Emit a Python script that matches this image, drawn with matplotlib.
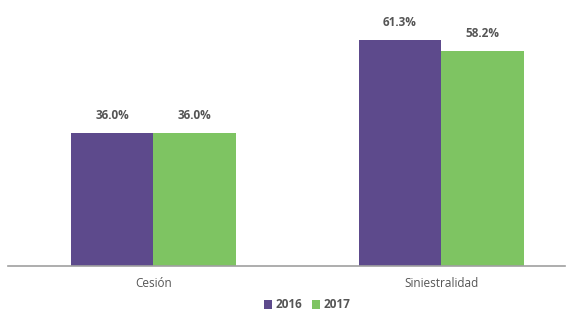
import matplotlib
matplotlib.use("Agg")
import matplotlib.pyplot as plt
import numpy as np

categories = ["Cesión", "Siniestralidad"]
years = ["2016", "2017"]
values_2016 = [36.0, 61.3]
values_2017 = [36.0, 58.2]

purple = "#5d4a8c"
green = "#7ec462"
text_grey = "#555555"

plt.rcParams["font.family"] = ["Open Sans", "DejaVu Sans"]

fig = plt.figure(figsize=(5.73, 3.27), dpi=100)
ax = fig.add_axes([8 / 573, 61 / 327, 557 / 573, 258 / 327])

x = np.arange(len(categories))
w = 0.286
b1 = ax.bar(x - w / 2, values_2016, w, color=purple, label=years[0])
b2 = ax.bar(x + w / 2, values_2017, w, color=green, label=years[1])

# value labels above each bar
for bars, vals in ((b1, values_2016), (b2, values_2017)):
    for rect, v in zip(bars, vals):
        ax.text(rect.get_x() + rect.get_width() / 2, v + 3.0, "%.1f%%" % v,
                ha="center", va="bottom", fontsize=8.5, fontweight="bold",
                color=text_grey)

ax.set_xlim(-0.505, 1.43)
ax.set_ylim(0, 70)
for s in ("top", "right", "left"):
    ax.spines[s].set_visible(False)
ax.spines["bottom"].set_color("#a0a0a0")
ax.spines["bottom"].set_linewidth(1.2)
ax.set_yticks([])
ax.set_xticks(x)
ax.set_xticklabels(categories, fontsize=8.5, color=text_grey)
ax.tick_params(axis="x", length=0, pad=8)

leg = fig.legend(handles=[b1, b2], labels=years, loc="center",
                 bbox_to_anchor=(307 / 573, 1 - 305 / 327), ncol=2,
                 frameon=False, fontsize=8.5, handlelength=0.7,
                 handleheight=0.7, handletextpad=0.3, columnspacing=0.8)
for t in leg.get_texts():
    t.set_color(text_grey)
    t.set_fontweight("bold")

fig.savefig("out.png", dpi=100)
